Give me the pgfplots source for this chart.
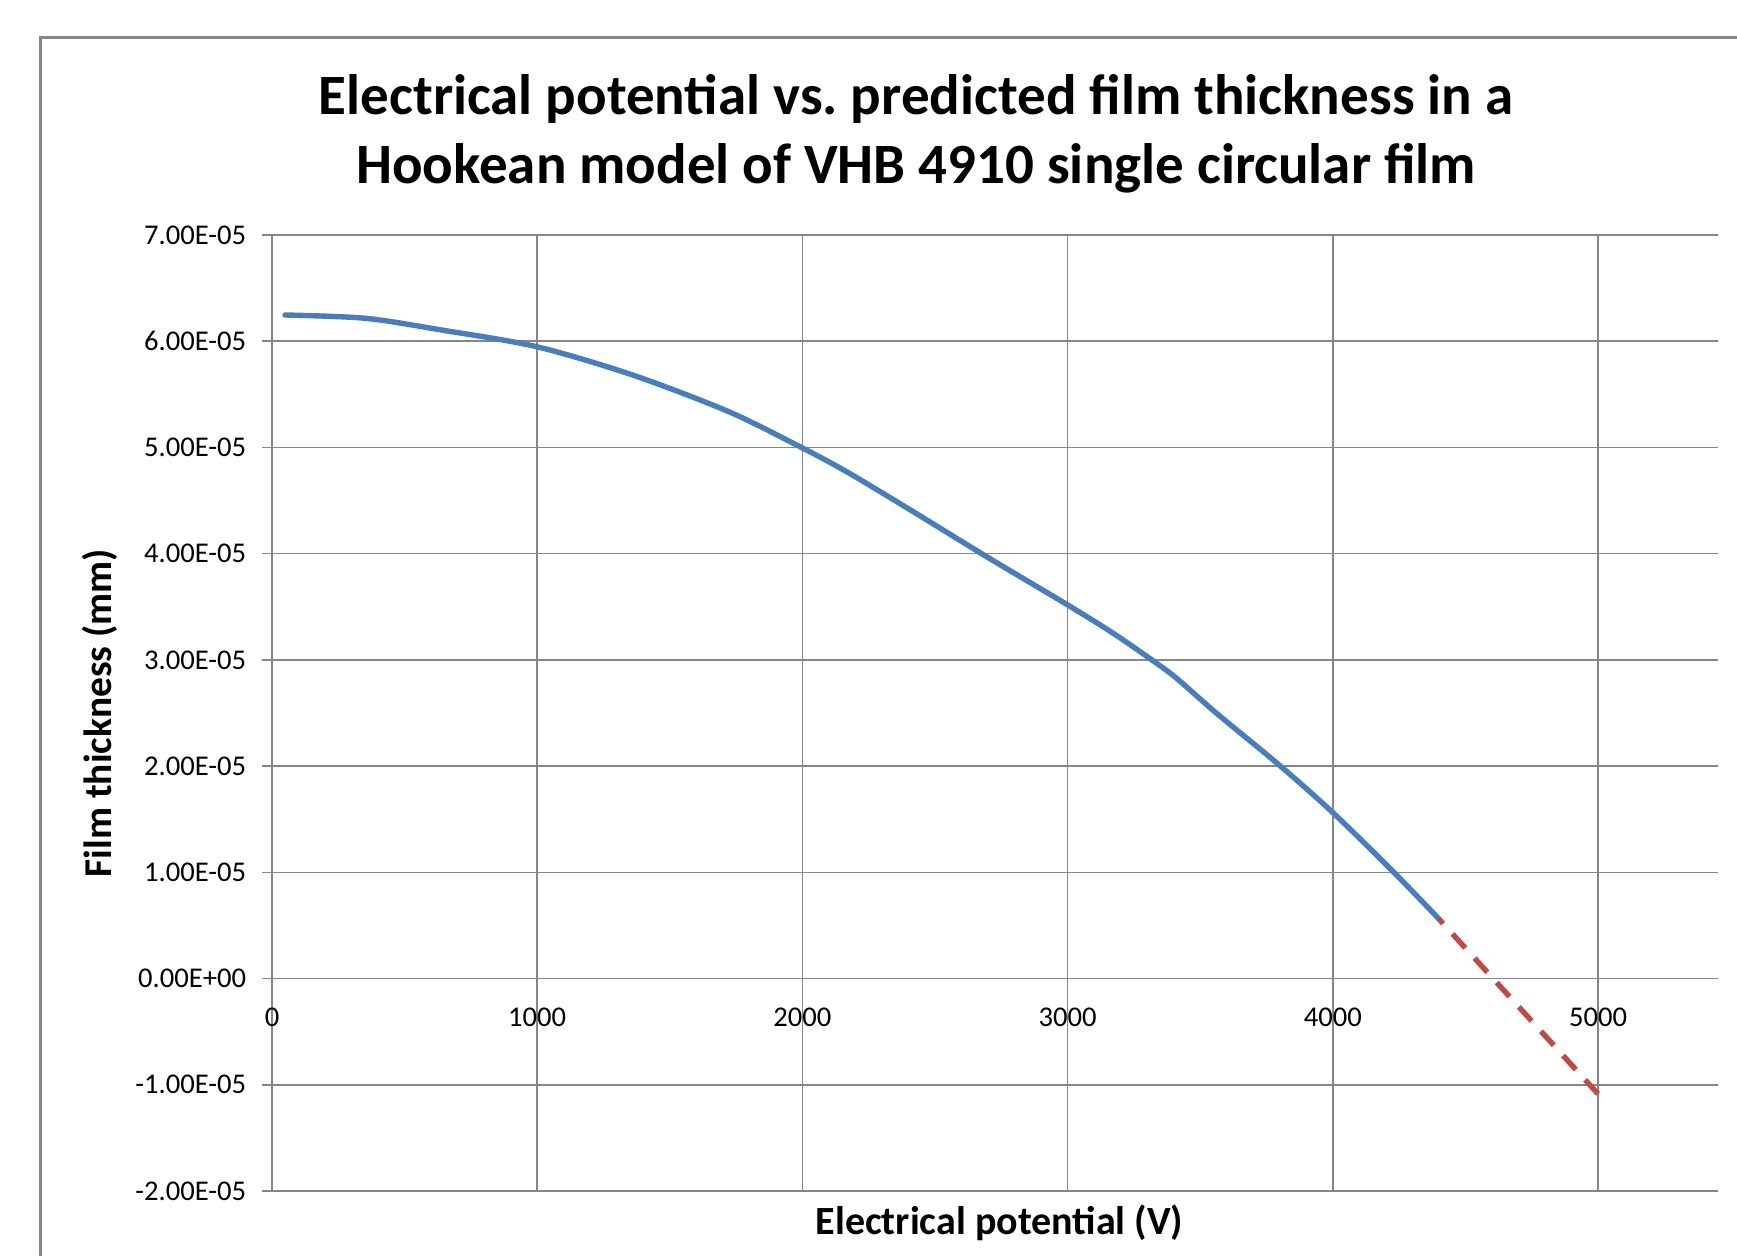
\documentclass[border=0pt]{standalone}
\usepackage{pgfplots}
\pgfplotsset{compat=1.18}
\usepackage{fontspec}
\setmainfont{Carlito}
\definecolor{gridgray}{RGB}{134,134,134}
\definecolor{framegray}{RGB}{134,134,134}
\definecolor{blueline}{RGB}{74,126,187}
\definecolor{redline}{RGB}{190,75,72}

\begin{document}
\begin{tikzpicture}
\path[use as bounding box] (0,0) rectangle (868.5pt,627.5pt);
\begin{scope}
\clip (0,0) rectangle (868.5pt,627.5pt);
\draw[framegray, line width=1.3pt] (20.1pt,608.85pt) rectangle (900pt,-20pt);
\end{scope}
\begin{axis}[
  at={(136pt,32pt)}, anchor=south west,
  scale only axis, width=723pt, height=478pt,
  xmin=0, xmax=5452, ymin=-2e-5, ymax=7e-5,
  axis x line=middle, axis y line=left,
  axis line style={-, draw=gridgray, line width=0.75pt},
  grid=major, major grid style={draw=gridgray, line width=0.75pt},
  xtick={0,1000,2000,3000,4000,5000},
  xticklabels={0,1000,2000,3000,4000,5000},
  ytick={-2e-5,-1e-5,0,1e-5,2e-5,3e-5,4e-5,5e-5,6e-5,7e-5},
  yticklabels={-2.00E-05,-1.00E-05,0.00E+00,1.00E-05,2.00E-05,3.00E-05,4.00E-05,5.00E-05,6.00E-05,7.00E-05},
  scaled ticks=false,
  hide obscured x ticks=false, hide obscured y ticks=false,
  /pgf/number format/assume math mode=true,
  tick label style={font=\fontsize{14.3}{17}\selectfont, text=black},
  xtick style={draw=none},
  ytick style={draw=gridgray, line width=0.75pt},
  tick align=outside, major tick length=5pt,
  xticklabel style={anchor=north, yshift=-6pt},
  yticklabel style={anchor=east, xshift=-4.4pt},
  title={Electrical potential vs.\ predicted film thickness in a\\Hookean model of VHB 4910 single circular film},
  title style={font=\bfseries\fontsize{28.5}{34.3}\selectfont, align=center, at={(rel axis cs:0.4454,1)}, anchor=base, yshift=20pt},
  xlabel={Electrical potential (V)},
  xlabel style={font=\bfseries\fontsize{20}{24}\selectfont, at={(rel axis cs:0.5031,0)}, anchor=base, yshift=-21.5pt},
  ylabel={Film thickness (mm)},
  ylabel style={font=\bfseries\fontsize{19.7}{24}\selectfont, at={(rel axis cs:-0.1111,0.5)}, anchor=base},
  clip=false,
]
\addplot[blueline, line width=2.7pt, line join=round, line cap=round, smooth, tension=0.5] coordinates {
(49,6.247e-5) (352,6.216e-5) (641,6.105e-5) (999,5.948e-5) (1362,5.68e-5)
(1723,5.336e-5) (2000,4.995e-5) (2167,4.771e-5) (2418,4.395e-5) (2695,3.971e-5)
(3001,3.516e-5) (3172,3.25e-5) (3323,2.99e-5) (3411,2.826e-5) (3562,2.496e-5)
(3801,2.003e-5) (4003,1.555e-5) (4228,1.005e-5) (4398,0.566e-5)
};
\addplot[redline, line width=2.7pt, dash pattern=on 9.5pt off 6.94pt, dash phase=6pt] coordinates {
(4398,0.566e-5) (5002,-1.093e-5)
};
\end{axis}
\end{tikzpicture}
\end{document}
